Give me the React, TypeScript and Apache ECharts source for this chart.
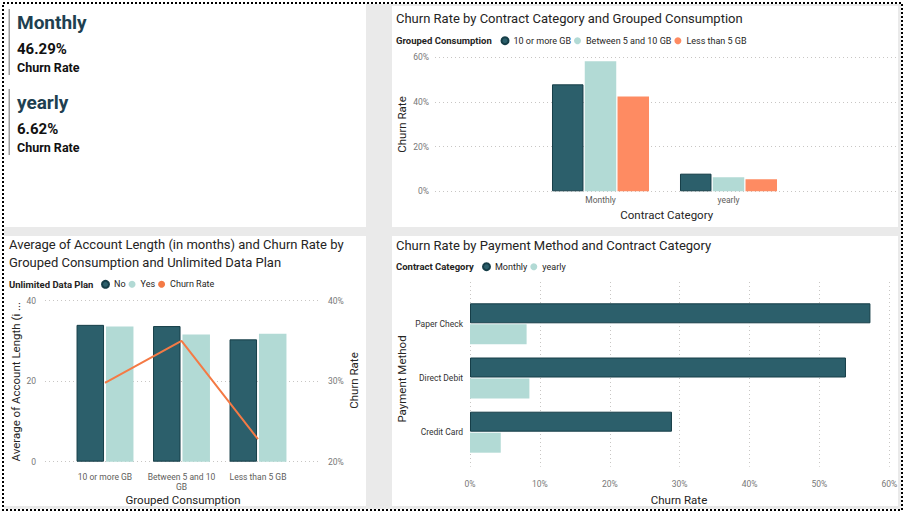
import React, { useEffect, useRef } from "react";
import * as echarts from "echarts";

// ---------- data ----------
const kpiLabels = ["Monthly", "yearly"];
const kpiValues = ["46.29%", "6.62%"];
const kpiCaption = "Churn Rate";

const contractCats = ["Monthly", "yearly"];
const consumptionGroups = ["10 or more GB", "Between 5 and 10 GB", "Less than 5 GB"];
const churn10Plus = [47.9, 7.9];
const churn5to10 = [58.2, 6.3];
const churnLess5 = [42.5, 5.4];

const planNames = ["No", "Yes"];
const accountLenNo = [34.0, 33.7, 30.4];
const accountLenYes = [33.6, 31.6, 31.8];
const churnByConsumption = [29.8, 35.0, 22.8];

const paymentMethods = ["Paper Check", "Direct Debit", "Credit Card"];
const churnMonthlyByPayment = [57.3, 53.8, 28.9];
const churnYearlyByPayment = [8.1, 8.5, 4.4];

// ---------- style ----------
const FONT = "'Segoe UI', Roboto, sans-serif";
const DARK = "#2c5f6b";
const DARK_BORDER = "#163e48";
const LIGHT = "#b2dad5";
const ORANGE = "#fe8b62";
const LINE = "#f47a45";
const TITLE_C = "#252423";
const GRID_LINE = { show: true, lineStyle: { color: "#c8c6c4", type: [1, 3] as any, width: 1 } };
const valLabel = { fontSize: 8.5, color: "#777", fontFamily: FONT };
const catLabel = { fontSize: 8.5, color: "#605e5c", fontFamily: FONT };

function txt(text: string, x: number, y: number, size: number, extra: any = {}, rot = 0) {
  return {
    type: "text",
    x,
    y,
    rotation: rot,
    z: 100,
    style: {
      text,
      fill: extra.fill || TITLE_C,
      fontSize: size,
      fontFamily: FONT,
      fontWeight: extra.fontWeight || "normal",
      align: extra.align || "left",
      verticalAlign: "middle",
      width: extra.width,
      overflow: extra.overflow,
      ellipsis: extra.ellipsis,
    },
  };
}

function rect(x: number, y: number, w: number, h: number, fill: string, z = -10) {
  return { type: "rect", z, shape: { x, y, width: w, height: h }, style: { fill } };
}

const hiddenAxis = { show: false };

function buildOption(): any {
  const kpiGraphics: any[] = [];
  kpiLabels.forEach((lab, i) => {
    const dy = i * 80;
    kpiGraphics.push(rect(8.5, 9 + dy, 1.5, 66, "#a0a0a0", 5));
    kpiGraphics.push(txt(lab, 17, 22.5 + dy, 19, { fontWeight: "bold", fill: "#203f50" }));
    kpiGraphics.push(txt(kpiValues[i], 17, 48.7 + dy, 15, { fontWeight: "bold", fill: "#111" }));
    kpiGraphics.push(txt(kpiCaption, 17, 67 + dy, 12.5, { fontWeight: "bold", fill: "#111" }));
  });

  const graphic: any[] = [
    rect(0, 0, 904, 515, "#ffffff", -20),
    rect(4, 4, 897, 505, "#eaeaea", -15),
    rect(4, 4, 362, 223, "#ffffff"),
    rect(392, 6, 506, 221, "#ffffff"),
    rect(4, 236, 362, 270, "#ffffff"),
    rect(392, 236, 506, 270, "#ffffff"),
    {
      type: "rect",
      z: 50,
      shape: { x: 3, y: 3, width: 899, height: 507 },
      style: { fill: "none", stroke: "#000", lineWidth: 2, lineDash: [2, 2] },
    },
    ...kpiGraphics,
    // legend captions
    txt("Grouped Consumption", 396, 40.7, 9.5, { fontWeight: "bold" }),
    txt("Unlimited Data Plan", 9, 284.3, 9.5, { fontWeight: "bold" }),
    txt("Contract Category", 396, 266.7, 9.5, { fontWeight: "bold" }),
    // axis names
    txt("Churn Rate", 401.7, 124.5, 11.5, { align: "center" }, Math.PI / 2),
    txt("Contract Category", 666.7, 215.3, 11.5, { align: "center" }),
    txt(
      "Average of Account Length (in months)",
      15.5,
      381.7,
      11.5,
      { align: "center", width: 162, overflow: "truncate", ellipsis: " ..." },
      Math.PI / 2
    ),
    txt("Churn Rate", 353.5, 380.5, 11.5, { align: "center" }, Math.PI / 2),
    txt("Grouped Consumption", 183, 500, 11.5, { align: "center" }),
    txt("Payment Method", 401.7, 379, 11.5, { align: "center" }, Math.PI / 2),
    txt("Churn Rate", 679, 500, 11.5, { align: "center" }),
  ];

  const titleStyle = { fontSize: 13, fontWeight: "normal", color: TITLE_C, fontFamily: FONT, lineHeight: 17.5 };
  const legendText = { fontSize: 9, color: "#252423", fontFamily: FONT, lineHeight: 12 };

  return {
    animation: false,
    backgroundColor: "#ffffff",
    graphic,
    title: [
      { text: "Churn Rate by Contract Category and Grouped Consumption", left: 396, top: 9.5, padding: 0, textStyle: titleStyle },
      {
        text: "Average of Account Length (in months) and Churn Rate by\nGrouped Consumption and Unlimited Data Plan",
        left: 9,
        top: 236,
        padding: 0,
        textStyle: titleStyle,
      },
      { text: "Churn Rate by Payment Method and Contract Category", left: 396, top: 236.3, padding: 0, textStyle: titleStyle },
    ],
    legend: [
      {
        data: consumptionGroups,
        left: 500.5,
        top: 34.7,
        padding: 0,
        icon: "circle",
        itemWidth: 7,
        itemHeight: 7,
        itemGap: 3,
        textStyle: legendText,
        selectedMode: false,
      },
      {
        data: [...planNames, "Churn Rate"],
        left: 101,
        top: 278.3,
        padding: 0,
        icon: "circle",
        itemWidth: 7,
        itemHeight: 7,
        itemGap: 3,
        textStyle: legendText,
        selectedMode: false,
      },
      {
        data: ["Monthly ", "yearly "],
        left: 482,
        top: 260.7,
        padding: 0,
        icon: "circle",
        itemWidth: 7,
        itemHeight: 7,
        itemGap: 3,
        textStyle: legendText,
        formatter: (n: string) => n.trim(),
        selectedMode: false,
      },
    ],
    grid: [
      { left: 435, top: 57.3, width: 462, height: 134 },
      { left: 536.5, top: 57.3, width: 256, height: 134 },
      { left: 45, top: 300.7, width: 275, height: 161 },
      { left: 66.75, top: 300.7, width: 229.5, height: 161 },
      { left: 470, top: 282, width: 419.3, height: 184.7 },
      { left: 470, top: 296.7, width: 419.3, height: 162.6 },
    ],
    xAxis: [
      { gridIndex: 0, type: "category", data: contractCats, ...hiddenAxis },
      {
        gridIndex: 1,
        type: "category",
        data: contractCats,
        axisLine: { show: false },
        axisTick: { show: false },
        axisLabel: { ...catLabel, margin: 4, interval: 0 },
      },
      { gridIndex: 2, type: "category", data: consumptionGroups, ...hiddenAxis },
      {
        gridIndex: 3,
        type: "category",
        data: consumptionGroups,
        axisLine: { show: false },
        axisTick: { show: false },
        axisLabel: {
          ...catLabel,
          margin: 10,
          lineHeight: 10.5,
          interval: 0,
          hideOverlap: false,
          formatter: (v: string) => (v.length > 15 ? v.replace(/ GB$/, "\nGB") : v),
        },
      },
      {
        gridIndex: 4,
        type: "value",
        min: 0,
        max: 60,
        interval: 10,
        axisLine: { show: false },
        axisTick: { show: false },
        axisLabel: { ...valLabel, margin: 13, formatter: "{value}%" },
        splitLine: GRID_LINE,
      },
      { gridIndex: 5, type: "value", min: 0, max: 60, ...hiddenAxis },
    ],
    yAxis: [
      {
        gridIndex: 0,
        type: "value",
        min: 0,
        max: 60,
        interval: 20,
        axisLine: { show: false },
        axisTick: { show: false },
        axisLabel: { ...valLabel, margin: 6, formatter: "{value}%" },
        splitLine: GRID_LINE,
      },
      { gridIndex: 1, type: "value", min: 0, max: 60, ...hiddenAxis },
      {
        gridIndex: 2,
        type: "value",
        min: 0,
        max: 40,
        interval: 20,
        axisLine: { show: false },
        axisTick: { show: false },
        axisLabel: { ...valLabel, margin: 9 },
        splitLine: GRID_LINE,
      },
      {
        gridIndex: 2,
        type: "value",
        position: "right",
        min: 20,
        max: 40,
        interval: 10,
        axisLine: { show: false },
        axisTick: { show: false },
        axisLabel: { ...valLabel, margin: 8, formatter: "{value}%" },
        splitLine: { show: false },
      },
      { gridIndex: 3, type: "value", min: 0, max: 40, ...hiddenAxis },
      { gridIndex: 3, type: "value", position: "right", min: 20, max: 40, ...hiddenAxis },
      { gridIndex: 4, type: "category", data: paymentMethods, inverse: true, ...hiddenAxis },
      {
        gridIndex: 5,
        type: "category",
        data: paymentMethods,
        inverse: true,
        axisLine: { show: false },
        axisTick: { show: false },
        axisLabel: { ...catLabel, color: "#333", margin: 7, interval: 0 },
      },
    ],
    series: [
      {
        name: consumptionGroups[0],
        type: "bar",
        xAxisIndex: 1,
        yAxisIndex: 1,
        data: churn10Plus,
        barWidth: 31.5,
        barGap: "4%",
        itemStyle: { color: DARK, borderColor: DARK_BORDER, borderWidth: 1 },
      },
      {
        name: consumptionGroups[1],
        type: "bar",
        xAxisIndex: 1,
        yAxisIndex: 1,
        data: churn5to10,
        barWidth: 31.5,
        barGap: "4%",
        itemStyle: { color: LIGHT },
      },
      {
        name: consumptionGroups[2],
        type: "bar",
        xAxisIndex: 1,
        yAxisIndex: 1,
        data: churnLess5,
        barWidth: 31.5,
        barGap: "4%",
        itemStyle: { color: ORANGE },
      },
      {
        name: planNames[0],
        type: "bar",
        xAxisIndex: 3,
        yAxisIndex: 4,
        data: accountLenNo,
        barWidth: 27.5,
        barGap: "7%",
        itemStyle: { color: DARK, borderColor: DARK_BORDER, borderWidth: 1 },
      },
      {
        name: planNames[1],
        type: "bar",
        xAxisIndex: 3,
        yAxisIndex: 4,
        data: accountLenYes,
        barWidth: 27.5,
        barGap: "7%",
        itemStyle: { color: LIGHT },
      },
      {
        name: "Churn Rate",
        type: "line",
        xAxisIndex: 3,
        yAxisIndex: 5,
        data: churnByConsumption,
        symbol: "none",
        z: 5,
        lineStyle: { color: LINE, width: 2 },
        itemStyle: { color: LINE },
      },
      {
        name: "Monthly ",
        type: "bar",
        xAxisIndex: 5,
        yAxisIndex: 7,
        data: churnMonthlyByPayment,
        barWidth: 20,
        barGap: "5%",
        itemStyle: { color: DARK, borderColor: DARK_BORDER, borderWidth: 1 },
      },
      {
        name: "yearly ",
        type: "bar",
        xAxisIndex: 5,
        yAxisIndex: 7,
        data: churnYearlyByPayment,
        barWidth: 20,
        barGap: "5%",
        itemStyle: { color: LIGHT },
      },
    ],
  };
}

export default function App() {
  const ref = useRef<HTMLDivElement>(null);
  useEffect(() => {
    if (!ref.current) return;
    const chart = echarts.init(ref.current, null, { renderer: "svg", width: 904, height: 515 });
    chart.setOption(buildOption());
    return () => chart.dispose();
  }, []);
  return (
    <div
      ref={ref}
      style={{ position: "fixed", left: 0, top: 0, width: 904, height: 515, background: "#fff" }}
    />
  );
}
